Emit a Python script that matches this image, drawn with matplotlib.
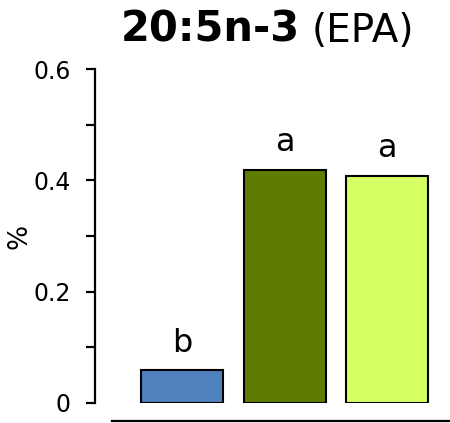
import matplotlib
matplotlib.use('Agg')
import matplotlib.pyplot as plt
from matplotlib.ticker import MultipleLocator

# data
groups = ['g1', 'g2', 'g3']
values = [0.058, 0.419, 0.408]
letters = ['b', 'a', 'a']
colors = ['#4F81BD', '#5E7C00', '#D6FF64']

fig = plt.figure(figsize=(4.5, 4.23), dpi=100)
ax = fig.add_axes([95/450, 1 - 402.7/423, 355/450, 333.4/423])

x = range(len(groups))
ax.bar(x, values, width=0.8, color=colors, edgecolor='black', linewidth=1.5)
for xi, v, l in zip(x, values, letters):
    ax.annotate(l, (xi, v), xytext=(0, 13.5), textcoords='offset points',
                ha='center', va='baseline', fontsize=23)

ax.set_xlim(-0.847, 2.61)
ax.set_ylim(0, 0.6)
ax.set_yticks([0, 0.2, 0.4, 0.6])
ax.set_yticklabels(['0', '0.2', '0.4', '0.6'])
ax.yaxis.set_minor_locator(MultipleLocator(0.1))
ax.tick_params(axis='y', which='both', length=6.5, width=1.6, labelsize=17, pad=11)
ax.set_xticks([])

for s in ['top', 'right']:
    ax.spines[s].set_visible(False)
ax.spines['left'].set_linewidth(1.6)
ax.spines['bottom'].set_linewidth(1.6)
ax.spines['bottom'].set_position(('outward', 13))
ax.spines['bottom'].set_bounds(-0.68, 2.61)

ax.set_ylabel('%', fontsize=19)
ax.yaxis.set_label_coords(-0.175, 0.5)

fig.text(300/450, 1 - 42/423, '20:5n-3', ha='right', va='baseline',
         fontsize=30, fontweight='bold')
fig.text(312/450, 1 - 42/423, '(EPA)', ha='left', va='baseline', fontsize=28)

fig.savefig('out.png', dpi=100)
